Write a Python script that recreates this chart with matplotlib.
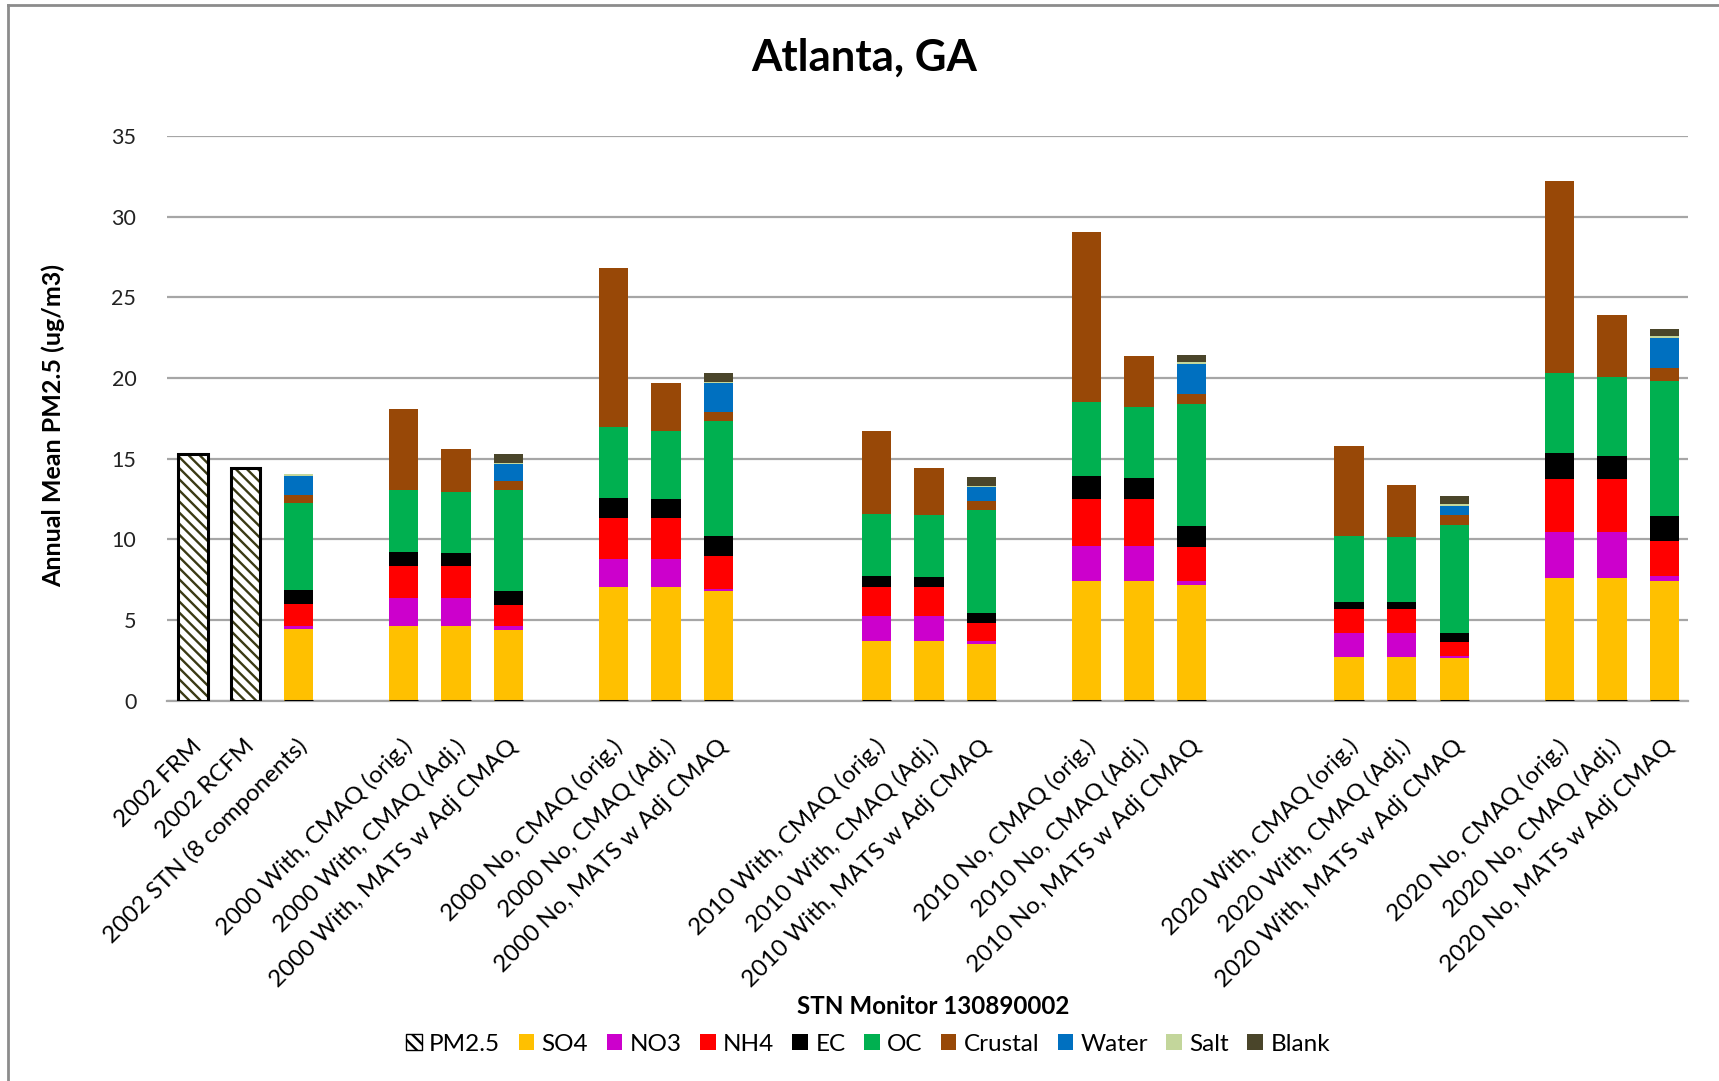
import matplotlib
matplotlib.use('Agg')
import matplotlib.pyplot as plt
from matplotlib.patches import Patch
from matplotlib.lines import Line2D
import matplotlib.transforms as mtransforms
import numpy as np

plt.rcParams['font.family'] = ['Lato', 'DejaVu Sans']
plt.rcParams['hatch.linewidth'] = 1.7

categories = [
    "2002 FRM", "2002 RCFM", "2002 STN (8 components)",
    "2000 With, CMAQ (orig.)", "2000 With, CMAQ (Adj.)", "2000 With, MATS w Adj CMAQ",
    "2000 No, CMAQ (orig.)", "2000 No, CMAQ (Adj.)", "2000 No, MATS w Adj CMAQ",
    "2010 With, CMAQ (orig.)", "2010 With, CMAQ (Adj.)", "2010 With, MATS w Adj CMAQ",
    "2010 No, CMAQ (orig.)", "2010 No, CMAQ (Adj.)", "2010 No, MATS w Adj CMAQ",
    "2020 With, CMAQ (orig.)", "2020 With, CMAQ (Adj.)", "2020 With, MATS w Adj CMAQ",
    "2020 No, CMAQ (orig.)", "2020 No, CMAQ (Adj.)", "2020 No, MATS w Adj CMAQ",
]

pm25    = [15.31, 14.42, 0, 0, 0, 0, 0, 0, 0, 0, 0, 0, 0, 0, 0, 0, 0, 0, 0, 0, 0]
so4     = [0, 0, 4.46, 4.63, 4.63, 4.40, 7.02, 7.02, 6.78, 3.70, 3.70, 3.53, 7.42, 7.42, 7.17, 2.73, 2.73, 2.64, 7.62, 7.62, 7.40]
no3     = [0, 0, 0.17, 1.75, 1.75, 0.25, 1.76, 1.76, 0.14, 1.57, 1.57, 0.15, 2.17, 2.17, 0.25, 1.44, 1.44, 0.15, 2.81, 2.81, 0.30]
nh4     = [0, 0, 1.36, 1.99, 1.99, 1.26, 2.54, 2.54, 2.03, 1.75, 1.75, 1.13, 2.93, 2.93, 2.08, 1.51, 1.51, 0.83, 3.29, 3.29, 2.20]
ec      = [0, 0, 0.87, 0.87, 0.78, 0.87, 1.24, 1.18, 1.24, 0.71, 0.62, 0.62, 1.43, 1.26, 1.35, 0.46, 0.46, 0.55, 1.62, 1.45, 1.56]
oc      = [0, 0, 5.41, 3.84, 3.76, 6.30, 4.40, 4.24, 7.17, 3.84, 3.85, 6.37, 4.54, 4.40, 7.56, 4.09, 4.00, 6.70, 4.95, 4.89, 8.36]
crustal = [0, 0, 0.46, 5.00, 2.69, 0.54, 9.86, 2.95, 0.53, 5.17, 2.93, 0.56, 10.58, 3.16, 0.62, 5.58, 3.25, 0.62, 11.91, 3.86, 0.77]
water   = [0, 0, 1.22, 0, 0, 1.03, 0, 0, 1.80, 0, 0, 0.86, 0, 0, 1.82, 0, 0, 0.60, 0, 0, 1.90]
salt    = [0, 0, 0.10, 0, 0, 0.08, 0, 0, 0.08, 0, 0, 0.09, 0, 0, 0.12, 0, 0, 0.08, 0, 0, 0.13]
blank   = [0, 0, 0.00, 0, 0, 0.56, 0, 0, 0.54, 0, 0, 0.55, 0, 0, 0.48, 0, 0, 0.50, 0, 0, 0.42]

series_names = ["SO4", "NO3", "NH4", "EC", "OC", "Crustal", "Water", "Salt", "Blank"]
series_vals = [so4, no3, nh4, ec, oc, crustal, water, salt, blank]
series_colors = ["#FFC000", "#CC00CC", "#FF0000", "#000000", "#00B050",
                 "#984807", "#0070C0", "#C3D69B", "#4A452A"]

# layout: empty slots after certain bars
gap_after = {2: 1, 5: 1, 8: 2, 11: 1, 14: 2, 17: 1}
pos = []
p = 0
for i in range(len(categories)):
    pos.append(p)
    p += 1 + gap_after.get(i, 0)
pos = np.array(pos, dtype=float)

fig = plt.figure(figsize=(17.19, 10.81), dpi=100)
ax = fig.add_axes([0.0971, 0.3519, 0.8849, 0.5223])

width = 0.56
# PM2.5 hatched bars
ax.bar(pos, pm25, width, color='white', edgecolor='#3A3A14', linewidth=0,
       hatch='\\\\\\', zorder=3)
ax.bar(pos, pm25, width, fill=False, edgecolor='black', linewidth=2.2, zorder=4)

bottom = np.zeros(len(categories))
for name, vals, col in zip(series_names, series_vals, series_colors):
    v = np.array(vals)
    ax.bar(pos, v, width, bottom=bottom, color=col, edgecolor='none',
           linewidth=0, zorder=3)
    bottom += v

ax.set_xlim(-0.5, 28.45)
ax.set_ylim(0, 35)
ax.set_yticks(np.arange(0, 36, 5))
ax.yaxis.grid(True, color='#A6A6A6', linewidth=1.6, zorder=0)
ax.set_axisbelow(True)
for s in ['top', 'right', 'left']:
    ax.spines[s].set_visible(False)
ax.spines['bottom'].set_color('#A6A6A6')
ax.spines['bottom'].set_linewidth(1.6)
ax.tick_params(axis='y', length=0, pad=22, labelsize=15.5, labelcolor='#222222')
ax.tick_params(axis='x', length=0, pad=25)
ax.set_xticks(pos)
ax.set_xticklabels(categories, rotation=45, ha='right', rotation_mode='anchor',
                   fontsize=17.4)
for lab in ax.get_xticklabels():
    lab.set_transform(lab.get_transform() + mtransforms.ScaledTranslation(-0.02, 0, fig.dpi_scale_trans))

ax.set_ylabel("Annual Mean PM2.5 (ug/m3)", fontsize=18, fontweight='bold')
ax.yaxis.set_label_coords(-0.067, 0.488)

fig.text(0.503, 0.947, "Atlanta, GA", ha='center', va='center',
         fontsize=31.5, fontweight='bold')
fig.text(0.543, 0.069, "STN Monitor 130890002", ha='center', va='center',
         fontsize=17.4, fontweight='bold')

handles = [Patch(facecolor='white', edgecolor='black', hatch='\\\\\\', linewidth=1.0, label='PM2.5')]
for name, col in zip(series_names, series_colors):
    handles.append(Patch(facecolor=col, edgecolor='none', label=name))
fig.legend(handles=handles, loc='center', bbox_to_anchor=(0.505, 0.034), ncol=10,
           frameon=False, fontsize=17.5, handlelength=0.65, handleheight=0.65,
           handletextpad=0.3, columnspacing=0.75)

# outer chart frame (left and top edges)
fig.add_artist(Line2D([0.0047, 0.0047], [0, 0.995], transform=fig.transFigure,
                      color='#8C8C8C', linewidth=2))
fig.add_artist(Line2D([0.0047, 1.0], [0.995, 0.995], transform=fig.transFigure,
                      color='#8C8C8C', linewidth=2))

fig.savefig('out.png', dpi=100, facecolor='white')
